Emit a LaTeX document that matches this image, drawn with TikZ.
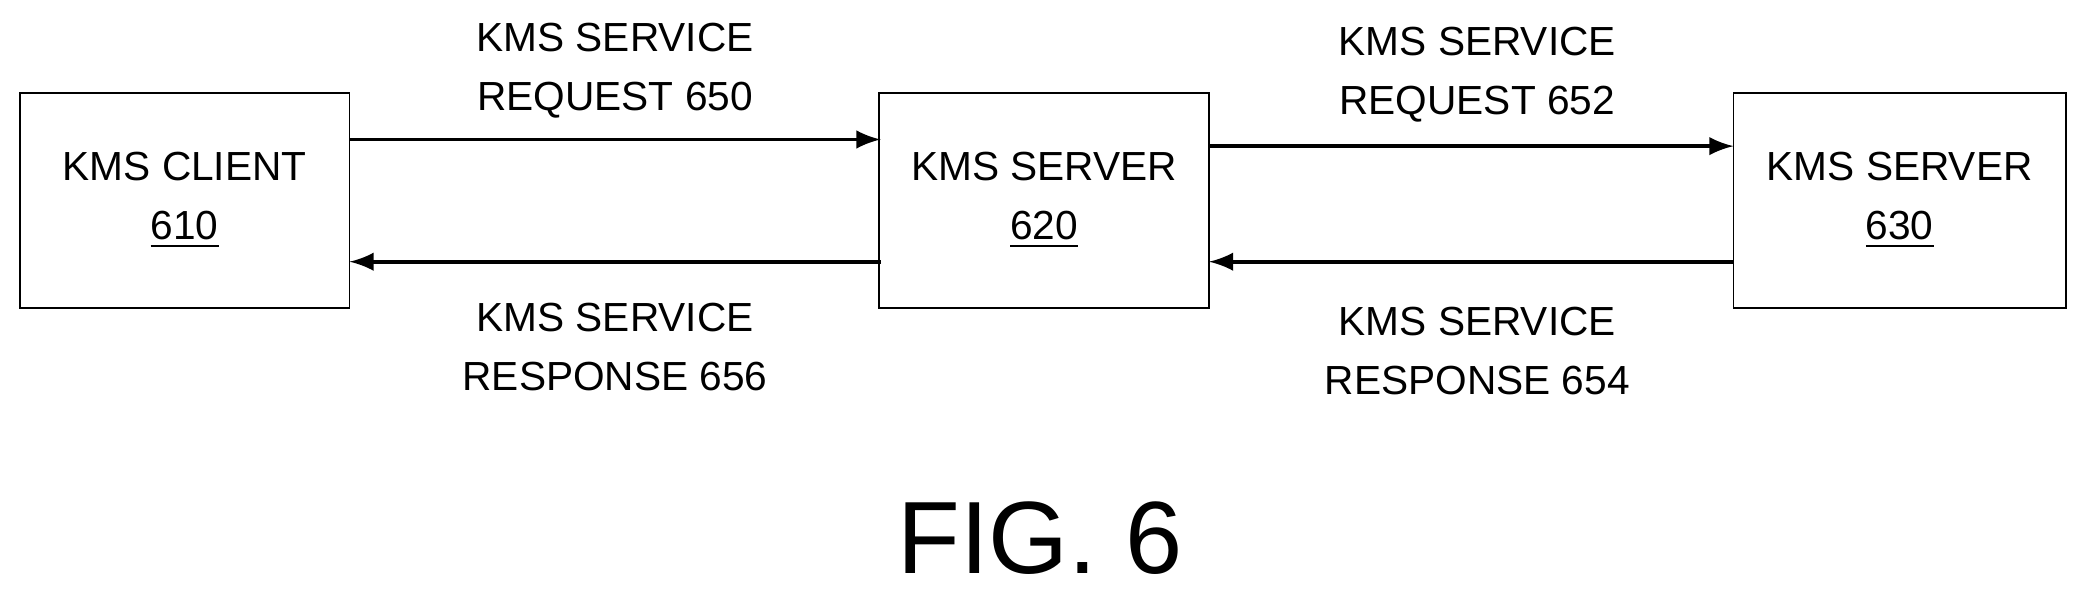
\documentclass[tikz,border=0pt]{standalone}
\usepackage{fontspec}
\setmainfont{Liberation Sans}
\begin{document}
\begin{tikzpicture}[x=0.01cm,y=-0.01cm]
        \tikzstyle{kmsBox}=[draw,minimum width=2.48cm,minimum height=1.62cm,inner sep=0pt,align=center,font=\fontsize{8.7}{12.5}\selectfont]
        \tikzstyle{msgArrow}=[-latex, thick]
        \tikzstyle{msgLabel}=[align=center,font=\fontsize{8.7}{12.7}\selectfont]
    \useasboundingbox (0,0) rectangle (1568,448);
    \node[kmsBox] (client) at (139, 151) {KMS CLIENT\\\underline{610}};
    \node[kmsBox] (s620) at (786, 151) {KMS SERVER\\\underline{620}};
    \node[kmsBox,minimum width=2.5cm] (s630) at (1430, 151) {KMS SERVER\\\underline{630}};

    \coordinate (a1) at (263, 105);
    \coordinate (b1) at (663, 105);
    \coordinate (a2) at (663, 197);
    \coordinate (b2) at (263, 197);
    \coordinate (a3) at (910, 110);
    \coordinate (b3) at (1305, 110);
    \coordinate (a4) at (1305, 197);
    \coordinate (b4) at (910, 197);

    \draw[msgArrow] (a1) -- (b1);
    \draw[msgArrow] (a2) -- (b2);
    \draw[msgArrow] (a3) -- (b3);
    \draw[msgArrow] (a4) -- (b4);

    \node[msgLabel] (req650) at (463, 53) {KMS SERVICE\\REQUEST 650};
    \node[msgLabel] (resp656) at (463, 261) {KMS SERVICE\\RESPONSE 656};
    \node[msgLabel] (req652) at (1112, 56) {KMS SERVICE\\REQUEST 652};
    \node[msgLabel] (resp654) at (1112, 264) {KMS SERVICE\\RESPONSE 654};

    \node[font=\fontsize{22}{26}\selectfont] (fig) at (783, 405) {FIG. 6};
\end{tikzpicture}
\end{document}
